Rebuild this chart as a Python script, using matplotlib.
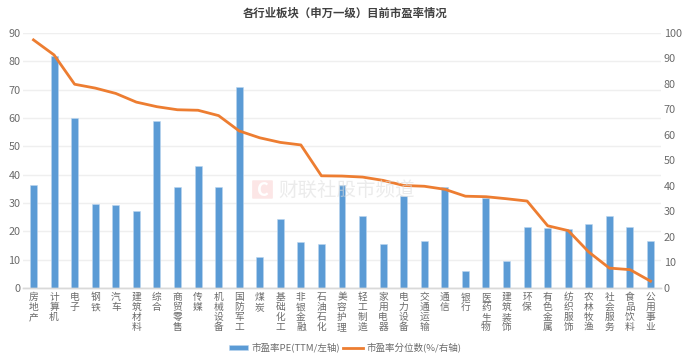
import matplotlib
matplotlib.use('Agg')
import matplotlib.pyplot as plt
from matplotlib.patches import FancyBboxPatch

plt.rcParams['font.family'] = ['Noto Sans CJK SC', 'DejaVu Sans']

title = '各行业板块（申万一级）目前市盈率情况'
categories = ['房地产', '计算机', '电子', '钢铁', '汽车', '建筑材料', '综合', '商贸零售', '传媒', '机械设备',
              '国防军工', '煤炭', '基础化工', '非银金融', '石油石化', '美容护理', '轻工制造', '家用电器',
              '电力设备', '交通运输', '通信', '银行', '医药生物', '建筑装饰', '环保', '有色金属', '纺织服饰',
              '农林牧渔', '社会服务', '食品饮料', '公用事业']
pe = [36.2, 82, 60, 29.5, 29.2, 27.2, 59, 35.5, 43, 35.7,
      71, 11.1, 24.5, 16.1, 15.5, 36.2, 25.5, 15.5,
      32.5, 16.5, 35.5, 5.9, 31.9, 9.4, 21.5, 21.1, 20.8,
      22.7, 25.5, 21.5, 16.7]
percentile = [97.3, 91.4, 79.9, 78.4, 76.3, 72.9, 71.1, 69.9, 69.7, 67.6,
              61.6, 58.9, 57.1, 56.1, 44, 43.9, 43.5, 42.2,
              40.2, 39.9, 38.7, 36, 35.8, 35, 34.1, 24.4, 22.5,
              14.1, 7.8, 7.2, 2.7]
left_ticks = list(range(0, 100, 10))
right_ticks = list(range(0, 110, 10))
bar_label = '市盈率PE(TTM/左轴)'
line_label = '市盈率分位数(%/右轴)'
watermark = '财联社股市频道'

W, H = 692, 364
fig = plt.figure(figsize=(W / 100, H / 100), dpi=100, facecolor='white')
ax = fig.add_axes([23.2 / W, 1 - 288 / H, (660.8 - 23.2) / W, 255 / H])
ax2 = ax.twinx()
x = list(range(len(categories)))
GRAY = '#6b6b6b'

ax.set_axisbelow(True)
ax.yaxis.grid(True, color='#efefef', linewidth=1)
bars = ax.bar(x, pe, width=0.34, color='#5B9BD5', edgecolor='#bcd6ef', linewidth=0.4, label=bar_label, zorder=2)
ln, = ax2.plot(x, percentile, color='#ED7D31', linewidth=2, label=line_label, solid_joinstyle='round', zorder=3)

ax.set_xlim(-0.5, len(categories) - 0.5)
ax.set_ylim(0, 90)
ax2.set_ylim(0, 100)
ax.set_yticks(left_ticks)
ax2.set_yticks(right_ticks)
ax.set_xticks(x)
ax.set_xticklabels(['\n'.join(c) for c in categories], fontsize=7.0, color=GRAY, linespacing=1.0, va='top')
ax.tick_params(axis='x', length=0, pad=3)
ax.tick_params(axis='y', length=0, pad=2, labelsize=7.8, labelcolor=GRAY)
ax2.tick_params(axis='y', length=0, pad=2, labelsize=7.8, labelcolor=GRAY)
for a in (ax, ax2):
    for s in ('top', 'left', 'right'):
        a.spines[s].set_visible(False)
    a.spines['bottom'].set_color('#d9d9d9')
    a.spines['bottom'].set_linewidth(1)
ax.set_zorder(1)
ax2.set_zorder(2)
ax2.patch.set_visible(False)

fig.text(345 / W, 1 - 13 / H, title, ha='center', va='center', fontsize=8.2, fontweight='bold', color='#404040')

fig.text(278 / W, 1 - 190 / H, watermark, ha='left', va='center', fontsize=14, color='#dcdcdc', alpha=0.55, zorder=5)
fig.add_artist(FancyBboxPatch((253.5 / W, 1 - 198 / H), 18 / W, 17 / H, boxstyle='round,pad=0.002',
                              transform=fig.transFigure, fc='#fbdcdc', ec='none', alpha=0.7, zorder=5))
fig.text(262.5 / W, 1 - 190 / H, 'C', ha='center', va='center', fontsize=13, fontweight='bold', color='white', zorder=6)

fig.legend([bars, ln], [bar_label, line_label], loc='center', bbox_to_anchor=(345 / W, 1 - 348 / H), ncol=2,
           frameon=False, fontsize=6.85, labelcolor=GRAY, handlelength=2.0, handleheight=0.5,
           handletextpad=0.4, columnspacing=0.35, borderpad=0)
fig.savefig('out.png', dpi=100)
